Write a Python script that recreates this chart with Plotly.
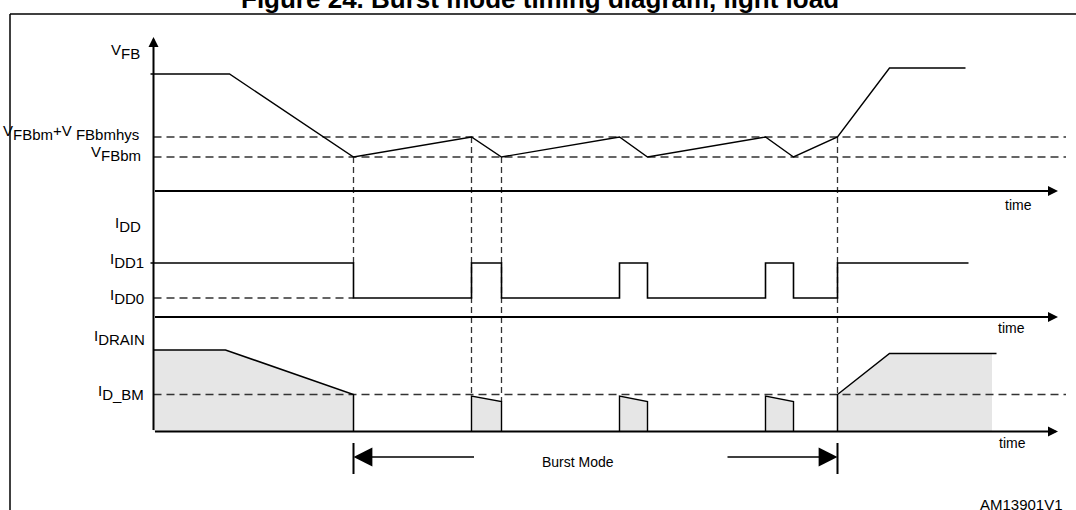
import plotly.graph_objects as go

# ---------------- data ----------------
# time in diagram units (0 = vertical axis); levels are heights above each trace's own time axis
vfb_t = [-3, 76, 200, 318, 348, 466, 494, 612, 640, 684, 736, 812]
vfb_v = [117, 117, 34, 54, 34, 54, 34, 54, 34, 54, 123, 123]
vfb_bm = 34
vfb_bm_hys = 54

idd_t = [-3, 200, 318, 348, 466, 494, 612, 640, 684, 815]
idd_v = [54, 19, 54, 19, 54, 19, 54, 19, 54, 54]
idd1 = 54
idd0 = 19

idrain_start_t = [0, 72, 200, 200]
idrain_start_v = [81.5, 81.5, 37, 0]
pulse_on = [318, 466, 612]
pulse_off = [348, 494, 640]
pulse_peak = [35.5, 35.5, 35.5]
pulse_tail = [30, 30, 30]
idrain_end_t = [684, 684, 736, 843]
idrain_end_v = [0, 37, 78, 78]
id_bm = 37

burst_enter = 200
burst_exit = 684

title_text = "Figure 24. Burst mode timing diagram, light load"
time_label = "time"
burst_label = "Burst Mode"
code_label = "AM13901V1"

# ---------------- layout constants ----------------
W, H = 1076, 510
X0 = 153.5                       # pixel column of the time origin
BASE = {"vfb": 191, "idd": 317, "id": 431.5}
AXIS_END = 904.5
DASH_END = 912.5
FILL_END = 838.5
FONT = "Liberation Sans, Arial, sans-serif"
DASH_H = "8px,5px"
DASH_V = "6px,4px"
DASH_COL = "#333333"


def Y(panel, vals):
    return [BASE[panel] - v for v in vals]


def raised(s):
    return ('<span style="font-size:60%"><sup><span style="font-size:238%">'
            + s + '</span></sup></span>')


fig = go.Figure()


def line(t, y, width=1.4, color="black", dash=None):
    fig.add_trace(go.Scatter(x=t, y=y, mode="lines",
                             line=dict(color=color, width=width, dash=dash),
                             hoverinfo="skip", showlegend=False))


def fill(t, y):
    fig.add_trace(go.Scatter(x=t, y=y, mode="lines", fill="toself",
                             fillcolor="#e6e6e6", line=dict(width=0),
                             hoverinfo="skip", showlegend=False))


# fills for I_DRAIN
fill([0] + idrain_start_t, Y("id", [0] + idrain_start_v))
for on, off, pk, tl in zip(pulse_on, pulse_off, pulse_peak, pulse_tail):
    fill([on, on, off, off], Y("id", [0, pk, tl, 0]))
fill(idrain_end_t[:3] + [FILL_END, FILL_END], Y("id", idrain_end_v[:3] + [idrain_end_v[3], 0]))

# horizontal dashed reference levels
line([0, DASH_END], Y("vfb", [vfb_bm_hys, vfb_bm_hys]), 1.3, DASH_COL, DASH_H)
line([0, DASH_END], Y("vfb", [vfb_bm, vfb_bm]), 1.3, DASH_COL, DASH_H)
line([0, burst_enter], Y("idd", [idd0, idd0]), 1.3, DASH_COL, DASH_H)
line([0, DASH_END], Y("id", [id_bm, id_bm]), 1.3, DASH_COL, DASH_H)

# vertical dashed guides
guides = [
    (burst_enter, "vfb", vfb_bm, "idd", idd1),
    (pulse_on[0], "vfb", vfb_bm_hys, "id", pulse_peak[0]),
    (pulse_off[0], "vfb", vfb_bm, "id", pulse_tail[0]),
    (burst_exit, "vfb", vfb_bm_hys, "id", id_bm),
]
for t, p1, v1, p2, v2 in guides:
    line([t, t], [BASE[p1] - v1, BASE[p2] - v2], 1.3, DASH_COL, DASH_V)

# signals
line(vfb_t, Y("vfb", vfb_v), 1.4)
fig.add_trace(go.Scatter(x=idd_t, y=Y("idd", idd_v), mode="lines",
                         line=dict(color="black", width=1.6, shape="hv"),
                         hoverinfo="skip", showlegend=False))
line(idrain_start_t, Y("id", idrain_start_v), 1.5)
for on, off, pk, tl in zip(pulse_on, pulse_off, pulse_peak, pulse_tail):
    line([on, on, off, off], Y("id", [0, pk, tl, 0]), 1.4)
line(idrain_end_t, Y("id", idrain_end_v), 1.5)

# ---------------- shapes (frame, ticks) ----------------
shapes = [
    dict(type="line", xref="x", yref="y", x0=-X0 + 10, y0=14, x1=W - X0, y1=14,
         line=dict(color="black", width=1.5)),
    dict(type="line", xref="x", yref="y", x0=-X0 + 10, y0=14, x1=-X0 + 10, y1=H,
         line=dict(color="black", width=1.5)),
    dict(type="line", xref="x", yref="y", x0=burst_enter, y0=443, x1=burst_enter, y1=474,
         line=dict(color="black", width=2)),
    dict(type="line", xref="x", yref="y", x0=burst_exit, y0=443, x1=burst_exit, y1=474,
         line=dict(color="black", width=2)),
]


def arrow(x, y, ax, ay, width=2.0, size=1.0):
    return dict(x=x, y=y, ax=ax, ay=ay, xref="x", yref="y", axref="x", ayref="y",
                text="", showarrow=True, arrowhead=2, arrowsize=size,
                arrowwidth=width, arrowcolor="black", standoff=0, startstandoff=0)


annotations = [
    arrow(0, 37, 0, BASE["id"]),
    arrow(AXIS_END, BASE["vfb"], 0, BASE["vfb"]),
    arrow(AXIS_END, BASE["idd"], 0, BASE["idd"]),
    arrow(AXIS_END, BASE["id"], 0, BASE["id"]),
    arrow(burst_enter, 457, 322, 457, 1.3, 2.9),
    arrow(burst_exit, 457, 572.5, 457, 1.3, 2.9),
]


def text(x, y, s, size=15, xanchor="center", bold=False, yshift=0):
    annotations.append(dict(x=x, y=y, xref="x", yref="y", text=s, showarrow=False,
                            xanchor=xanchor, yanchor="middle", yshift=yshift,
                            font=dict(family=FONT, size=size, color="black",
                                      weight="bold" if bold else "normal")))


text(-11.5, 51.5, raised("V") + "FB", xanchor="right")
text(-12.5, 132, raised("V") + "FBbm" + raised("+V") + " FBbmhys", xanchor="right")
text(-10.5, 153.5, raised("V") + "FBbm", xanchor="right")
text(-10.5, 224, raised("I") + "DD", xanchor="right")
text(-7.5, 260.5, raised("I") + "DD1", xanchor="right")
text(-7.5, 296.5, raised("I") + "DD0", xanchor="right")
text(-6.5, 337, raised("I") + "DRAIN", xanchor="right")
text(-7.5, 392, raised("I") + "D_BM", xanchor="right")

text(865, 205, time_label, 14)
text(858, 328, time_label, 14)
text(859, 443, time_label, 14)
text(424.5, 462, burst_label, 14)
text(867.5, 504, code_label, 15)
text(386.5, 0, title_text, 26, bold=True, yshift=1)

fig.update_layout(
    width=W, height=H, margin=dict(l=0, r=0, t=0, b=0),
    paper_bgcolor="white", plot_bgcolor="white",
    xaxis=dict(range=[-X0, W - X0], visible=False, fixedrange=True),
    yaxis=dict(range=[H, 0], visible=False, fixedrange=True),
    shapes=shapes, annotations=annotations, showlegend=False,
)

fig.write_html("out.html", config={"displayModeBar": False},
               post_script="document.body.style.margin='0';document.body.style.overflow='hidden';")
